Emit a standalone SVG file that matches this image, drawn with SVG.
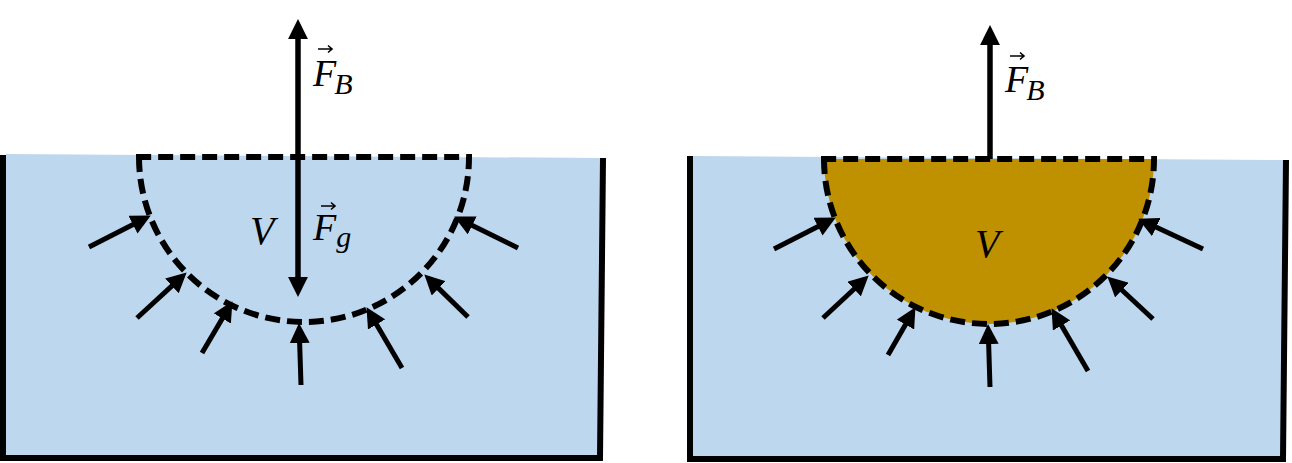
<svg xmlns="http://www.w3.org/2000/svg" width="1292" height="463" viewBox="0 0 1292 463">
<defs>
<style>
.water{fill:#BDD7EE;stroke:none}
.wall{fill:none;stroke:#000;stroke-width:6;stroke-linejoin:miter}
.dash{stroke:#000;stroke-width:6;stroke-dasharray:15 7}
.arr{fill:none;stroke:#000;stroke-width:5}
.big{fill:none;stroke:#000;stroke-width:5.5}
.vecarr{fill:none;stroke:#000;stroke-width:1.6}
.math{font-family:"Liberation Serif","DejaVu Serif",serif;font-style:italic;fill:#000}
</style>
<marker id="ah" markerUnits="userSpaceOnUse" markerWidth="20" markerHeight="20" viewBox="0 0 18 18" refX="10" refY="9" orient="auto-start-reverse">
<path d="M0,0 L18,9 L0,18 Z" fill="#000"/>
</marker>
</defs>

<g id="left-tank">
<polygon class="water" points="6,154 603,158 600,456 6,456"/>
<polyline class="wall" points="3,155 3,458 600,458 603,158"/>
</g>
<g id="left-volume">
<path class="dash" fill="none" d="M139,157 A165,165 0 0 0 469,157 Z"/>
<text class="math" x="250" y="244" font-size="40">V</text>
</g>

<g id="right-tank">
<polygon class="water" points="693,156 1287,160 1283,457 693,457"/>
<polyline class="wall" points="690,156 690,459 1283,459 1286,160"/>
</g>
<g id="right-volume">
<path class="dash" fill="#BF9000" d="M824,159 A165,165 0 0 0 1154,159 Z"/>
<text class="math" x="975" y="257" font-size="40">V</text>
</g>

<g id="connectors">
<line class="big" x1="298" y1="28" x2="298" y2="288" marker-start="url(#ah)" marker-end="url(#ah)"/>
<line class="big" x1="990" y1="159" x2="990" y2="34" marker-end="url(#ah)"/>
<line class="arr" x1="89" y1="247" x2="142.9" y2="219.6" marker-end="url(#ah)"/>
<line class="arr" x1="137" y1="318" x2="180.1" y2="278.4" marker-end="url(#ah)"/>
<line class="arr" x1="202" y1="353" x2="227.9" y2="308.9" marker-end="url(#ah)"/>
<line class="arr" x1="301" y1="385" x2="299.3" y2="332" marker-end="url(#ah)"/>
<line class="arr" x1="402" y1="368" x2="371" y2="314.9" marker-end="url(#ah)"/>
<line class="arr" x1="468" y1="317" x2="430.7" y2="280.6" marker-end="url(#ah)"/>
<line class="arr" x1="518" y1="248" x2="462.2" y2="220.5" marker-end="url(#ah)"/>
<line class="arr" x1="774" y1="249" x2="827.9" y2="221.6" marker-end="url(#ah)"/>
<line class="arr" x1="823" y1="318" x2="862.2" y2="281.5" marker-end="url(#ah)"/>
<line class="arr" x1="888" y1="355" x2="911" y2="314.9" marker-end="url(#ah)"/>
<line class="arr" x1="990" y1="387" x2="988.3" y2="333" marker-end="url(#ah)"/>
<line class="arr" x1="1088" y1="371" x2="1056" y2="315.9" marker-end="url(#ah)"/>
<line class="arr" x1="1153" y1="319" x2="1113.8" y2="282.5" marker-end="url(#ah)"/>
<line class="arr" x1="1203" y1="249" x2="1146.2" y2="222.4" marker-end="url(#ah)"/>
</g>

<g id="label-FB-left">
<path class="vecarr" d="M318,49 H332 M328,45.5 L332,49 L328,52.5"/>
<text class="math" x="313" y="86" font-size="38">F<tspan font-size="30" dx="-2" dy="8">B</tspan></text>
</g>
<g id="label-Fg-left">
<path class="vecarr" d="M321,206 H335 M331,202.5 L335,206 L331,209.5"/>
<text class="math" x="313" y="240" font-size="38">F<tspan font-size="30" dx="0" dy="7">g</tspan></text>
</g>
<g id="label-FB-right">
<path class="vecarr" d="M1010,56 H1024 M1020,52.5 L1024,56 L1020,59.5"/>
<text class="math" x="1005" y="92" font-size="38">F<tspan font-size="30" dx="-2" dy="8">B</tspan></text>
</g>
</svg>
